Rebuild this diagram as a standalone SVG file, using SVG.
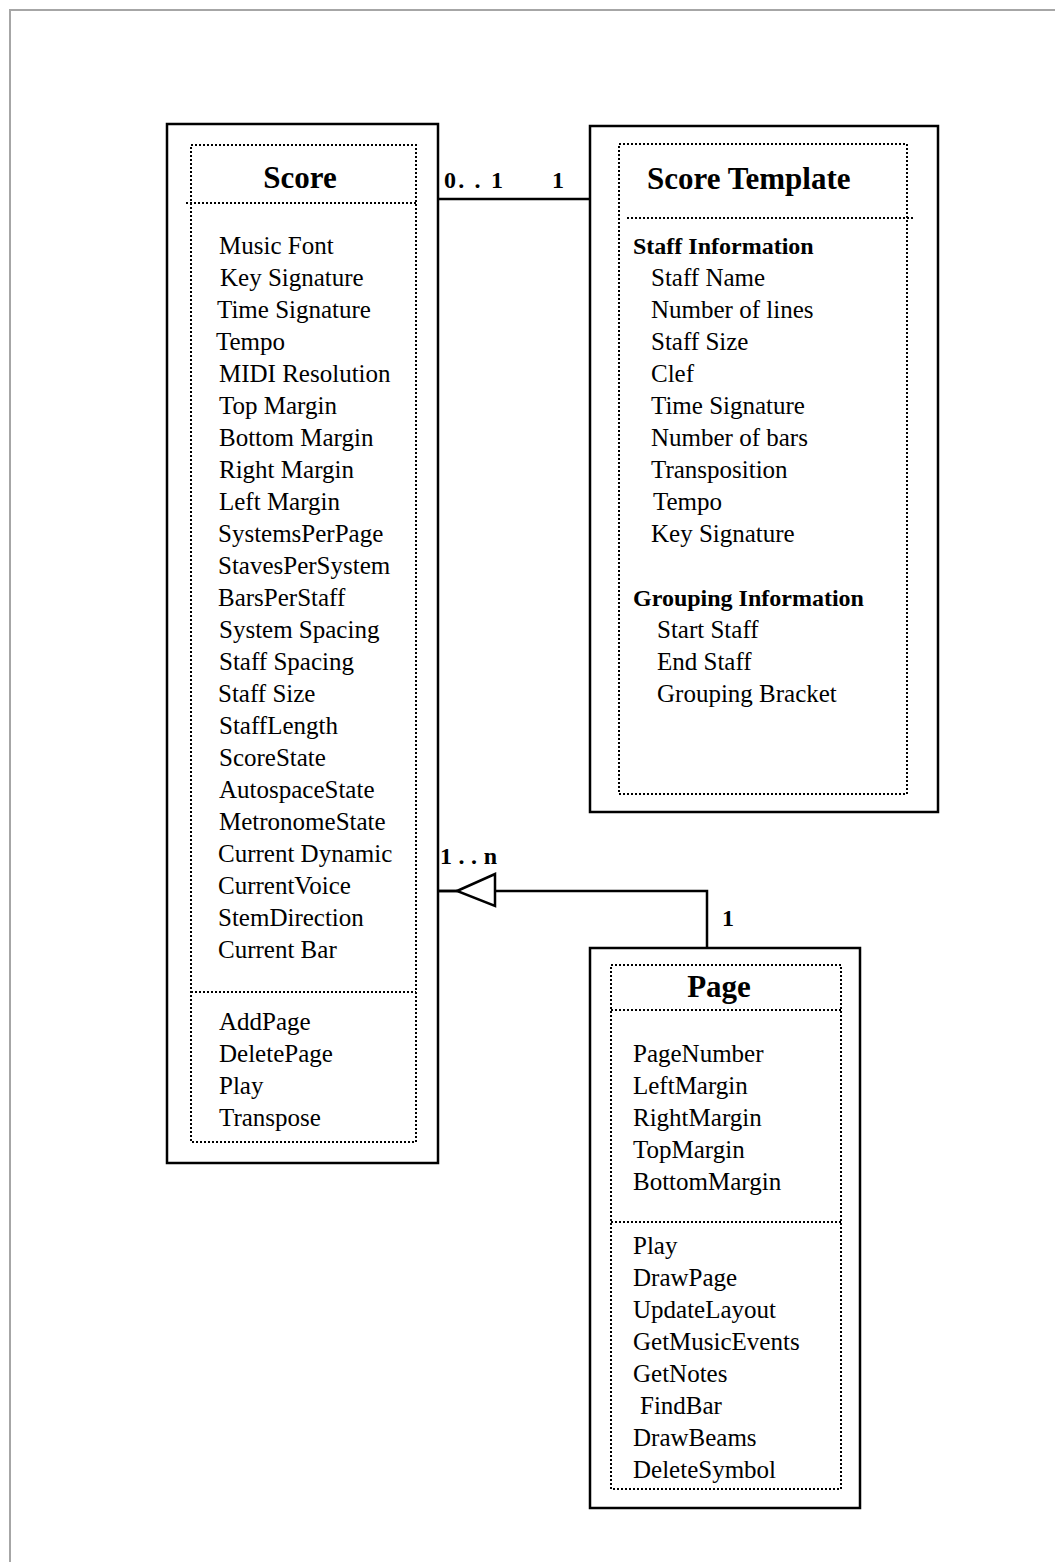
<svg xmlns="http://www.w3.org/2000/svg" width="1055" height="1562" viewBox="0 0 1055 1562" font-family="'Liberation Serif', 'Times New Roman', serif">
  <style>
    .frame { fill: none; stroke: #a6a6a6; stroke-width: 2; }
    .outer { fill: #ffffff; stroke: #000000; stroke-width: 2.5; }
    .inner { fill: none; stroke: #000000; stroke-width: 2; stroke-dasharray: 2 2; }
    .sep { fill: none; stroke: #000000; stroke-width: 2; stroke-dasharray: 2 2; }
    .conn { fill: none; stroke: #000000; stroke-width: 2.5; }
    .head { fill: #ffffff; stroke: #000000; stroke-width: 2.5; }
    text { fill: #000000; }
    .title { font-size: 31px; font-weight: bold; }
    .item { font-size: 25px; }
    .group { font-size: 24px; font-weight: bold; }
    .mult { font-size: 24px; font-weight: bold; }
  </style>

  <!-- page frame (top and left edges) -->
  <polyline class="frame" points="10,1562 10,10 1055,10"/>

  <!-- connectors -->
  <g id="connectors">
    <line class="conn" x1="438" y1="199" x2="590" y2="199"/>
    <text class="mult" x="444" y="188" textLength="59">0. . 1</text>
    <text class="mult" x="552" y="188">1</text>

    <polyline class="conn" points="438,891 707,891 707,948"/>
    <polygon class="head" points="457,891 495,874 495,906"/>
    <line class="conn" x1="438" y1="891" x2="457" y2="891"/>
    <text class="mult" x="440" y="864" textLength="57">1 . . n</text>
    <text class="mult" x="722" y="926">1</text>
  </g>

  <!-- Score -->
  <g id="score">
    <rect class="outer" x="167" y="124" width="271" height="1039"/>
    <rect class="inner" x="191" y="145" width="225" height="997"/>
    <line class="sep" x1="186" y1="203" x2="417" y2="203"/>
    <line class="sep" x1="191" y1="992" x2="416" y2="992"/>
    <text class="title" x="300" y="188" text-anchor="middle">Score</text>
    <text class="item" x="219" y="254">Music Font</text>
    <text class="item" x="220" y="286">Key Signature</text>
    <text class="item" x="217" y="318">Time Signature</text>
    <text class="item" x="216" y="350">Tempo</text>
    <text class="item" x="219" y="382">MIDI Resolution</text>
    <text class="item" x="219" y="414">Top Margin</text>
    <text class="item" x="219" y="446">Bottom Margin</text>
    <text class="item" x="219" y="478">Right Margin</text>
    <text class="item" x="219" y="510">Left Margin</text>
    <text class="item" x="218" y="542">SystemsPerPage</text>
    <text class="item" x="218" y="574">StavesPerSystem</text>
    <text class="item" x="218" y="606">BarsPerStaff</text>
    <text class="item" x="219" y="638">System Spacing</text>
    <text class="item" x="219" y="670">Staff Spacing</text>
    <text class="item" x="218" y="702">Staff Size</text>
    <text class="item" x="219" y="734">StaffLength</text>
    <text class="item" x="219" y="766">ScoreState</text>
    <text class="item" x="219" y="798">AutospaceState</text>
    <text class="item" x="219" y="830">MetronomeState</text>
    <text class="item" x="218" y="862">Current Dynamic</text>
    <text class="item" x="218" y="894">CurrentVoice</text>
    <text class="item" x="218" y="926">StemDirection</text>
    <text class="item" x="218" y="958">Current Bar</text>
    <text class="item" x="219" y="1030">AddPage</text>
    <text class="item" x="219" y="1062">DeletePage</text>
    <text class="item" x="219" y="1094">Play</text>
    <text class="item" x="219" y="1126">Transpose</text>
  </g>

  <!-- Score Template -->
  <g id="score-template">
    <rect class="outer" x="590" y="126" width="348" height="686"/>
    <rect class="inner" x="619" y="144" width="288" height="650"/>
    <line class="sep" x1="627" y1="218" x2="914" y2="218"/>
    <text class="title" x="647" y="189">Score Template</text>
    <text class="group" x="633" y="254">Staff Information</text>
    <text class="item" x="651" y="286">Staff Name</text>
    <text class="item" x="651" y="318">Number of lines</text>
    <text class="item" x="651" y="350">Staff Size</text>
    <text class="item" x="651" y="382">Clef</text>
    <text class="item" x="651" y="414">Time Signature</text>
    <text class="item" x="651" y="446">Number of bars</text>
    <text class="item" x="651" y="478">Transposition</text>
    <text class="item" x="653" y="510">Tempo</text>
    <text class="item" x="651" y="542">Key Signature</text>
    <text class="group" x="633" y="606">Grouping Information</text>
    <text class="item" x="657" y="638">Start Staff</text>
    <text class="item" x="657" y="670">End Staff</text>
    <text class="item" x="657" y="702">Grouping Bracket</text>
  </g>

  <!-- Page -->
  <g id="page">
    <rect class="outer" x="590" y="948" width="270" height="560"/>
    <rect class="inner" x="611" y="965" width="230" height="524"/>
    <line class="sep" x1="611" y1="1010" x2="841" y2="1010"/>
    <line class="sep" x1="611" y1="1222" x2="841" y2="1222"/>
    <text class="title" x="719" y="997" text-anchor="middle">Page</text>
    <text class="item" x="633" y="1062">PageNumber</text>
    <text class="item" x="633" y="1094">LeftMargin</text>
    <text class="item" x="633" y="1126">RightMargin</text>
    <text class="item" x="633" y="1158">TopMargin</text>
    <text class="item" x="633" y="1190">BottomMargin</text>
    <text class="item" x="633" y="1254">Play</text>
    <text class="item" x="633" y="1286">DrawPage</text>
    <text class="item" x="633" y="1318">UpdateLayout</text>
    <text class="item" x="633" y="1350">GetMusicEvents</text>
    <text class="item" x="633" y="1382">GetNotes</text>
    <text class="item" x="640" y="1414">FindBar</text>
    <text class="item" x="633" y="1446">DrawBeams</text>
    <text class="item" x="633" y="1478">DeleteSymbol</text>
  </g>
</svg>
